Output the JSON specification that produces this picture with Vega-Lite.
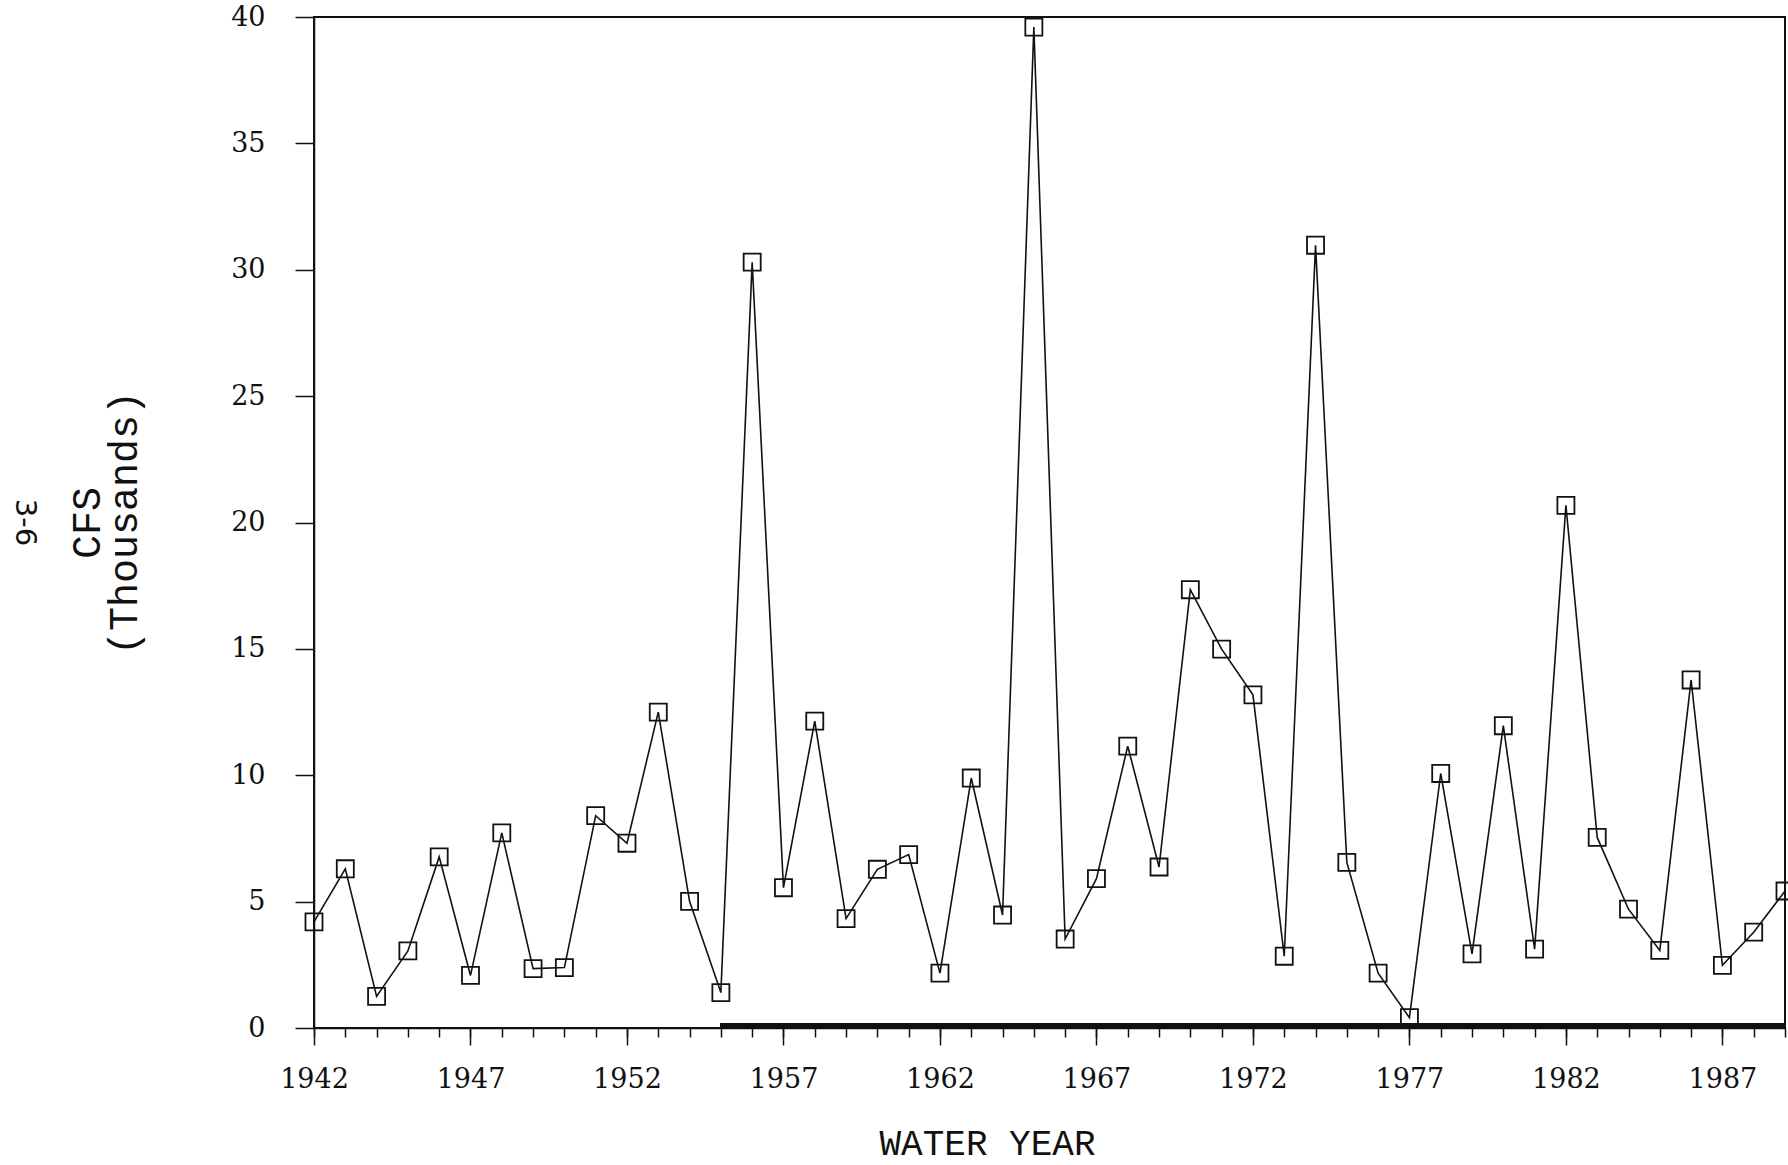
{
  "$schema": "https://vega.github.io/schema/vega-lite/v6.json",
  "autosize": {"type": "none"},
  "width": 1471,
  "height": 1011,
  "padding": {"left": 314, "top": 17, "right": 3, "bottom": 137},
  "background": "white",
  "config": {
    "view": {"stroke": "#111", "strokeWidth": 2},
    "axis": {
      "domainColor": "#111",
      "tickColor": "#111",
      "labelColor": "#111",
      "titleColor": "#111",
      "grid": false,
      "labelFont": "DejaVu Serif",
      "labelFontSize": 27,
      "titleFont": "Liberation Mono",
      "titleFontSize": 40,
      "titleFontWeight": "normal",
      "domainWidth": 1.5,
      "tickWidth": 1.5
    }
  },
  "title": {
    "text": "3-6",
    "orient": "left",
    "angle": 90,
    "font": "DejaVu Sans",
    "fontSize": 29,
    "fontWeight": "normal",
    "color": "#111",
    "offset": 0
  },
  "data": {
    "values": [
      {"year": 1942, "cfs": 4.2},
      {"year": 1943, "cfs": 6.3},
      {"year": 1944, "cfs": 1.25},
      {"year": 1945, "cfs": 3.05},
      {"year": 1946, "cfs": 6.77},
      {"year": 1947, "cfs": 2.08},
      {"year": 1948, "cfs": 7.72},
      {"year": 1949, "cfs": 2.35},
      {"year": 1950, "cfs": 2.39},
      {"year": 1951, "cfs": 8.4},
      {"year": 1952, "cfs": 7.31},
      {"year": 1953, "cfs": 12.5},
      {"year": 1954, "cfs": 5.01},
      {"year": 1955, "cfs": 1.4},
      {"year": 1956, "cfs": 30.3},
      {"year": 1957, "cfs": 5.55},
      {"year": 1958, "cfs": 12.14},
      {"year": 1959, "cfs": 4.33},
      {"year": 1960, "cfs": 6.28},
      {"year": 1961, "cfs": 6.86},
      {"year": 1962, "cfs": 2.17},
      {"year": 1963, "cfs": 9.89},
      {"year": 1964, "cfs": 4.47},
      {"year": 1965, "cfs": 39.6},
      {"year": 1966, "cfs": 3.52},
      {"year": 1967, "cfs": 5.91},
      {"year": 1968, "cfs": 11.15},
      {"year": 1969, "cfs": 6.37},
      {"year": 1970, "cfs": 17.34},
      {"year": 1971, "cfs": 14.99},
      {"year": 1972, "cfs": 13.18},
      {"year": 1973, "cfs": 2.84},
      {"year": 1974, "cfs": 30.97},
      {"year": 1975, "cfs": 6.55},
      {"year": 1976, "cfs": 2.17},
      {"year": 1977, "cfs": 0.41},
      {"year": 1978, "cfs": 10.07},
      {"year": 1979, "cfs": 2.93},
      {"year": 1980, "cfs": 11.96},
      {"year": 1981, "cfs": 3.12},
      {"year": 1982, "cfs": 20.68},
      {"year": 1983, "cfs": 7.54},
      {"year": 1984, "cfs": 4.7},
      {"year": 1985, "cfs": 3.07},
      {"year": 1986, "cfs": 13.77},
      {"year": 1987, "cfs": 2.48},
      {"year": 1988, "cfs": 3.79},
      {"year": 1989, "cfs": 5.42}
    ]
  },
  "layer": [
    {
      "mark": {"type": "line", "color": "#111", "strokeWidth": 1.6},
      "encoding": {
        "x": {
          "field": "year",
          "type": "quantitative",
          "scale": {"domain": [1942, 1989], "nice": false, "zero": false},
          "axis": {
            "orient": "bottom",
            "values": [1942, 1947, 1952, 1957, 1962, 1967, 1972, 1977, 1982, 1987],
            "format": "d",
            "labelFlush": false,
            "tickSize": 17,
            "labelPadding": 21,
            "title": "WATER YEAR",
            "titleFontSize": 36,
            "titlePadding": 34,
            "titleX": 673
          }
        },
        "y": {
          "field": "cfs",
          "type": "quantitative",
          "scale": {"domain": [0, 40], "nice": false},
          "axis": {
            "values": [0, 5, 10, 15, 20, 25, 30, 35, 40],
            "tickSize": 19,
            "labelPadding": 30,
            "labelFlush": false,
            "title": ["CFS", "(Thousands)"],
            "titleLineHeight": 37,
            "titlePadding": 86
          }
        }
      }
    },
    {
      "mark": {"type": "point", "shape": "square", "size": 290, "filled": false, "color": "#111", "strokeWidth": 1.8, "opacity": 1},
      "encoding": {
        "x": {
          "field": "year",
          "type": "quantitative",
          "axis": {
            "orient": "bottom",
            "values": [1942, 1943, 1944, 1945, 1946, 1947, 1948, 1949, 1950, 1951, 1952, 1953, 1954, 1955, 1956, 1957, 1958, 1959, 1960, 1961, 1962, 1963, 1964, 1965, 1966, 1967, 1968, 1969, 1970, 1971, 1972, 1973, 1974, 1975, 1976, 1977, 1978, 1979, 1980, 1981, 1982, 1983, 1984, 1985, 1986, 1987, 1988, 1989],
            "tickSize": 9,
            "labels": false,
            "domain": false,
            "title": null
          }
        },
        "y": {"field": "cfs", "type": "quantitative"}
      }
    },
    {
      "mark": {"type": "rule", "color": "#111", "strokeWidth": 3},
      "encoding": {
        "x": {"datum": 1955, "type": "quantitative", "axis": null},
        "x2": {"datum": 1989},
        "y": {"datum": 0.12, "type": "quantitative"}
      }
    }
  ],
  "resolve": {"axis": {"x": "independent"}}
}
